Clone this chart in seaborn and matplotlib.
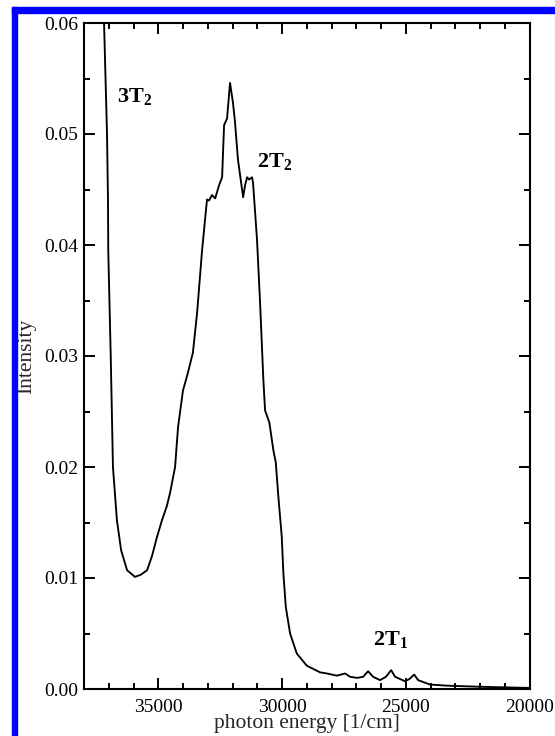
import matplotlib
matplotlib.use("Agg")
import matplotlib.pyplot as plt
import seaborn as sns
import pandas as pd
from matplotlib.patches import Rectangle

energy = [37300, 37190, 37070, 37030, 37020, 36920, 36830, 36670, 36500, 36260,
          35940, 35700, 35450, 35250, 35050, 34850, 34650, 34520, 34320, 34200,
          34000, 33800, 33600, 33430, 33230, 33030, 32950, 32830, 32700, 32540,
          32420, 32340, 32220, 32100, 31980, 31900, 31780, 31570, 31490, 31410,
          31330, 31210, 31170, 31010, 30890, 30752, 30684, 30510, 30348, 30251,
          30146, 30009, 29944, 29847, 29673, 29403, 28998, 28461, 28190, 27786,
          27450, 27250, 26960, 26720, 26520, 26320, 26040, 25800, 25590, 25430,
          25030, 24850, 24660, 24500, 24020, 23330, 22000, 20100, 20000]
intensity = [0.069, 0.0600, 0.0500, 0.0440, 0.0395, 0.0300, 0.0200, 0.0152, 0.0125, 0.0107,
             0.0101, 0.0103, 0.0107, 0.0120, 0.0137, 0.0152, 0.0165, 0.0177, 0.0200, 0.0236,
             0.0269, 0.0285, 0.0303, 0.0339, 0.0395, 0.0441, 0.0440, 0.0445, 0.0442, 0.0454,
             0.0461, 0.0508, 0.0514, 0.0546, 0.0528, 0.0511, 0.0477, 0.0443, 0.0454, 0.0461,
             0.0459, 0.0461, 0.0456, 0.0405, 0.0350, 0.0278, 0.0251, 0.0240, 0.0215, 0.0204,
             0.0173, 0.0137, 0.0104, 0.0074, 0.0050, 0.0032, 0.0021, 0.0015, 0.0014, 0.0012,
             0.0014, 0.0011, 0.0010, 0.0011, 0.0016, 0.0011, 0.0008, 0.0011, 0.0017, 0.0011,
             0.0007, 0.0009, 0.0013, 0.0008, 0.0004, 0.0003, 0.0002, 0.0001, 0.0001]

labels = [r"$\mathbf{3T_2}$", r"$\mathbf{2T_2}$", r"$\mathbf{2T_1}$"]
label_x = [36666, 31007, 26319]
label_y = [0.0529, 0.0470, 0.0040]

x_ticks = [35000, 30000, 25000, 20000]
y_ticks = [0.00, 0.01, 0.02, 0.03, 0.04, 0.05, 0.06]

sns.set_style("ticks")
plt.rcParams["font.family"] = ["Liberation Serif", "DejaVu Serif"]
plt.rcParams["mathtext.fontset"] = "custom"
plt.rcParams["mathtext.rm"] = "Liberation Serif"
plt.rcParams["mathtext.bf"] = "Liberation Serif:bold"

df = pd.DataFrame({"energy": energy, "intensity": intensity})

fig = plt.figure(figsize=(5.55, 7.36), dpi=100)
ax = fig.add_axes([84 / 555, 47 / 736, 445.5 / 555, 666 / 736])

sns.lineplot(data=df, x="energy", y="intensity", sort=False, color="black",
             linewidth=1.35, ax=ax)

ax.set_xlim(38000, 20000)
ax.set_ylim(0, 0.06)
ax.set_xticks(x_ticks)
ax.set_xticks(range(21000, 38001, 1000), minor=True)
ax.set_yticks(y_ticks)
ax.set_yticks([0.005 + 0.01 * i for i in range(6)], minor=True)
ax.set_yticklabels([f"{v:.2f}" for v in y_ticks])
ax.set_xticklabels([str(v) for v in x_ticks])

ax.tick_params(which="both", direction="in", top=True, right=True, labelsize=14,
               width=1.4, colors="black")
ax.tick_params(which="major", length=8)
ax.tick_params(which="minor", length=4.5)
ax.tick_params(axis="x", which="major", pad=7)
ax.tick_params(axis="y", which="major", pad=4)
for s in ax.spines.values():
    s.set_visible(True)
    s.set_linewidth(1.5)
    s.set_color("black")

ax.set_xlabel("photon energy [1/cm]", fontsize=15.5, labelpad=-1)
ax.set_ylabel("Intensity", fontsize=15.5, labelpad=6)

for t, x, y in zip(labels, label_x, label_y):
    ax.text(x, y, t, fontsize=16, ha="left", va="baseline", color="black")

# blue frame (top and left edges)
fig.patches.append(Rectangle((12 / 555, 0), 5 / 555, 1 - 7 / 736,
                             transform=fig.transFigure, color="#0000ff", zorder=10))
fig.patches.append(Rectangle((12 / 555, 1 - 12.5 / 736), 1, 5.5 / 736,
                             transform=fig.transFigure, color="#0000ff", zorder=10))

fig.savefig("out.png", dpi=100)
